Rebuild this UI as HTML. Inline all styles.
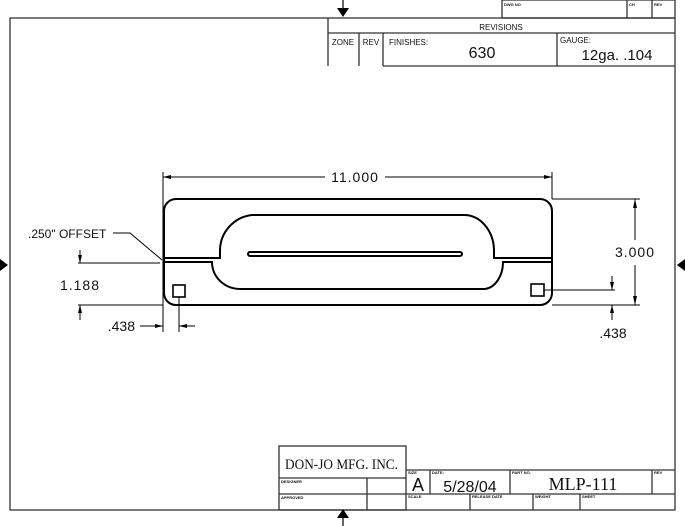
<!DOCTYPE html>
<html><head><meta charset="utf-8"><style>
html,body{margin:0;padding:0;background:#fff;}
svg{display:block;}
text{font-family:"Liberation Sans",sans-serif;fill:#111;}
</style></head><body>
<svg width="685" height="526" viewBox="0 0 685 526" xmlns="http://www.w3.org/2000/svg">
<g fill="none" stroke="#333" stroke-width="1.3">
<rect x="10" y="18" width="665" height="492"/>
<rect x="502" y="0" width="173" height="18"/>
<line x1="627" y1="0" x2="627" y2="18"/><line x1="652" y1="0" x2="652" y2="18"/>
<line x1="328" y1="18" x2="328" y2="66"/>
<line x1="328" y1="33" x2="675" y2="33"/>
<line x1="359" y1="33" x2="359" y2="66"/>
<line x1="383" y1="33" x2="383" y2="66"/>
<line x1="557" y1="33" x2="557" y2="66"/>
<line x1="383" y1="66" x2="675" y2="66"/>
<rect x="279" y="446" width="127" height="64"/>
<line x1="279" y1="478" x2="406" y2="478"/>
<line x1="279" y1="494" x2="675" y2="494"/>
<line x1="367" y1="478" x2="367" y2="510"/>
<line x1="406" y1="470" x2="675" y2="470"/>
<line x1="430" y1="470" x2="430" y2="494"/>
<line x1="510" y1="470" x2="510" y2="494"/>
<line x1="652" y1="470" x2="652" y2="494"/>
<line x1="470" y1="494" x2="470" y2="510"/>
<line x1="533" y1="494" x2="533" y2="510"/>
<line x1="580" y1="494" x2="580" y2="510"/>
</g>
<g fill="#000" stroke="#000">
<line x1="343" y1="0" x2="343" y2="8" stroke-width="1.2"/>
<polygon points="337,8 349,8 343,17" stroke="none"/>
<line x1="343" y1="518" x2="343" y2="526" stroke-width="1.2"/>
<polygon points="337,518 349,518 343,509" stroke="none"/>
<polygon points="0,259 0,271 8,265" stroke="none"/>
<polygon points="685,259 685,271 677,265" stroke="none"/>
</g>
<g fill="none" stroke="#000" stroke-width="2">
<path d="M176,199 H540 A12,12 0 0 1 552,211 V293 A12,12 0 0 1 540,305 H176 A12,12 0 0 1 164,293 V211 A12,12 0 0 1 176,199 Z"/>
<path d="M164,258 H220 V250 A36,36 0 0 1 252,215 H464 A30,36 0 0 1 494,250 V258 H552"/>
<path d="M164,262 H212 A28,27 0 0 0 240,289 H485 A20,27 0 0 0 503,262 H552"/>
<rect x="248" y="252" width="214" height="4" rx="2"/>
<rect x="173" y="285" width="12" height="12" stroke-width="1.6"/>
<rect x="531" y="284" width="13" height="12" stroke-width="1.6"/>
</g>
<g fill="none" stroke="#000" stroke-width="1">
<line x1="163" y1="172" x2="163" y2="332"/>
<line x1="552" y1="172" x2="552" y2="199"/>
<line x1="163" y1="177" x2="325" y2="177"/>
<line x1="385" y1="177" x2="552" y2="177"/>
<line x1="552" y1="199" x2="640" y2="199"/>
<line x1="552" y1="305" x2="640" y2="305"/>
<line x1="635" y1="199" x2="635" y2="240"/>
<line x1="635" y1="265" x2="635" y2="305"/>
<line x1="544" y1="290" x2="615" y2="290"/>
<line x1="612" y1="276" x2="612" y2="290"/>
<line x1="612" y1="305" x2="612" y2="320"/>
<line x1="78" y1="263" x2="160" y2="263"/>
<line x1="78" y1="305" x2="163" y2="305"/>
<line x1="80" y1="250" x2="80" y2="263"/>
<line x1="80" y1="305" x2="80" y2="320"/>
<line x1="179" y1="297" x2="179" y2="332"/>
<line x1="140" y1="326" x2="163" y2="326"/>
<line x1="179" y1="326" x2="195" y2="326"/>
<polyline points="113,233 130,233 162,260"/>
</g>
<g fill="#000">
<polygon points="163,177 171,175 171,179"/>
<polygon points="552,177 544,175 544,179"/>
<polygon points="635,199 633,208 637,208"/>
<polygon points="635,305 633,296 637,296"/>
<polygon points="612,290 610,282 614,282"/>
<polygon points="612,305 610,313 614,313"/>
<polygon points="80,263 78,255 82,255"/>
<polygon points="80,305 78,313 82,313"/>
<polygon points="163,326 155,324 155,328"/>
<polygon points="179,326 187,324 187,328"/>
</g>
<g font-size="13">
<text x="355" y="182" text-anchor="middle" font-size="14" letter-spacing="1">11.000</text>
<text x="635" y="257" text-anchor="middle" font-size="14" letter-spacing="1">3.000</text>
<text x="613" y="338" text-anchor="middle" font-size="14">.438</text>
<text x="80" y="290" text-anchor="middle" font-size="14" letter-spacing="1">1.188</text>
<text x="135" y="331" text-anchor="end" font-size="14">.438</text>
<text x="28" y="238" font-size="12">.250" OFFSET</text>
</g>
<g font-size="4" font-weight="bold">
<text x="504" y="6">DWG NO</text><text x="629" y="6">CH</text><text x="654" y="6">REV</text>
<text x="281" y="483">DESIGNER</text><text x="281" y="499">APPROVED</text>
<text x="408" y="474">SIZE</text><text x="432" y="474">DATE:</text><text x="512" y="474">PART NO.</text><text x="654" y="474">REV</text>
<text x="408" y="498">SCALE</text><text x="472" y="498">RELEASE DATE</text><text x="535" y="498">WEIGHT</text><text x="582" y="498">SHEET</text>
</g>
<g>
<text x="501" y="30" text-anchor="middle" font-size="8">REVISIONS</text>
<text x="343" y="45" text-anchor="middle" font-size="8">ZONE</text>
<text x="371" y="45" text-anchor="middle" font-size="8">REV</text>
<text x="389" y="45" font-size="8">FINISHES:</text>
<text x="560" y="43" font-size="8">GAUGE:</text>
<text x="482" y="58" text-anchor="middle" font-size="16">630</text>
<text x="617" y="60" text-anchor="middle" font-size="15">12ga. .104</text>
<text x="285" y="469" font-size="15" textLength="113" lengthAdjust="spacingAndGlyphs" style="font-family:'Liberation Serif',serif">DON-JO MFG. INC.</text>
<text x="418" y="491" text-anchor="middle" font-size="18">A</text>
<text x="470" y="492" text-anchor="middle" font-size="16">5/28/04</text>
<text x="583" y="490" text-anchor="middle" font-size="18" style="font-family:'Liberation Serif',serif">MLP-111</text>
</g>
</svg>
</body></html>
